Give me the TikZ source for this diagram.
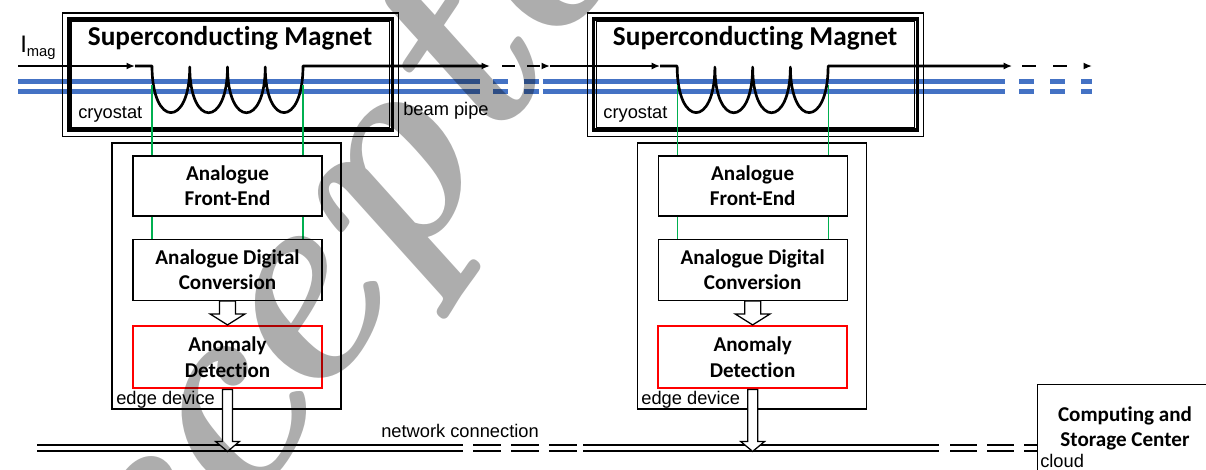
\documentclass[tikz,border=0pt]{standalone}
\usepackage{fontspec}
\usetikzlibrary{positioning}
\usetikzlibrary{arrows.meta}
\newfontfamily\calib[Ligatures=NoCommon]{Carlito}
\newfontfamily\arialf{Liberation Sans}
\definecolor{pipeblue}{HTML}{4472C4}
\definecolor{siggreen}{HTML}{00B050}
\newcommand{\pxl}{0.025cm}

\tikzset{
  wire/.style={line width=1.9pt, line join=round},
  wtip/.style={-{Latex[length=6pt,width=5pt]}},
  pipe/.style={pipeblue, line width=3.2pt},
  sig/.style={siggreen, line width=0.9pt},
  cryo/.style={draw, line width=2.35pt, minimum width=324*\pxl, minimum height=111*\pxl, inner sep=0pt},
  ttl/.style={inner sep=0pt, anchor=base, font=\calib\bfseries\fontsize{19.4}{19.4}\selectfont},
  blk/.style={draw, line width=0.9pt, minimum width=189*\pxl, minimum height=60*\pxl, inner sep=0pt, align=center, font=\calib\bfseries\fontsize{15}{17.8}\selectfont},
  lbl/.style={inner sep=0pt, anchor=base west, font=\arialf\fontsize{13}{13}\selectfont},
  hollow/.style={draw, fill=white, line width=0.9pt, line join=miter},
  netline/.style={line width=1.8pt, double distance=2.5pt, double=white}
}

\begin{document}
\begin{tikzpicture}[x=0.025cm, y=-0.025cm]
\useasboundingbox (0,0) rectangle (1206,469);

\begin{scope}[xshift=0cm]
{
\draw[pipe] (18,81.7)--(480,81.7);
\draw[pipe] (18,91.7)--(480,91.7);

\node[cryo] (magL) at (230.3,74.6) {};
\draw[line width=0.9pt] ([shift={(-4.5,4.5)}]magL.south west) rectangle ([shift={(4.5,-4.5)}]magL.north east);
\draw[line width=0.9pt] ([shift={(4.4,-4.3)}]magL.south west) rectangle ([shift={(-4.4,4.3)}]magL.north east);
\node[ttl] (titL) at (230,45.5) {Superconducting Magnet};
\node[lbl] (cryL) at (78,118) {cryostat};

\draw[wire, wtip] (18,66)--(135,66);
\draw[wire, wtip] (135,66)--(152,66) .. controls (152,128) and (189.75,128) .. (189.75,67)
   .. controls (189.75,128) and (227.5,128) .. (227.5,67)
   .. controls (227.5,128) and (265.25,128) .. (265.25,67)
   .. controls (265.25,128) and (303,128) .. (303,66)--(490,66);

\node[draw, line width=0.9pt, minimum width=229*\pxl, minimum height=266*\pxl, inner sep=0pt] (edgeL) at (226.5,276) {};
\node[blk] (feL) at (227.5,186) {Analogue\\Front-End};
\node[blk, minimum height=61*\pxl, below=0.55cm of feL] (adcL) {Analogue Digital\\Conversion};
\node[blk, draw=red, line width=1.8pt, minimum height=62*\pxl, below=0.6cm of adcL] (anoL) {Anomaly\\Detection};

\coordinate (gaL) at (152,85);
\coordinate (gbL) at (303,85);
\draw[sig] (gaL)--(gaL |- feL.north);
\draw[sig] (gbL)--(gbL |- feL.north);
\draw[sig] (gaL |- feL.south)--(gaL |- adcL.north);
\draw[sig] (gbL |- feL.south)--(gbL |- adcL.north);

\draw[hollow] (adcL.south) ++(-8,0) --++(0,13) --++(-9.5,0) --++(17.5,11) --++(17.5,-11) --++(-9.5,0) --++(0,-13) -- cycle;

\node[lbl] (edL) at (116,404) {edge device};

% labellings
\node[lbl] (bpL) at (403,115) {beam pipe};
\node[anchor=base west, inner sep=0pt, font=\arialf\fontsize{17}{17}\selectfont] (imag) at (20,52)
{I\raisebox{-3pt}{\fontsize{10.5}{10.5}\selectfont mag}};
}
\end{scope}

\begin{scope}[xshift=13.125cm]
{
\draw[pipe] (18,81.7)--(480,81.7);
\draw[pipe] (18,91.7)--(480,91.7);

\node[cryo] (magR) at (230.3,74.6) {};
\draw[line width=0.9pt] ([shift={(-4.5,4.5)}]magR.south west) rectangle ([shift={(4.5,-4.5)}]magR.north east);
\draw[line width=0.9pt] ([shift={(4.4,-4.3)}]magR.south west) rectangle ([shift={(-4.4,4.3)}]magR.north east);
\node[ttl] (titR) at (230,45.5) {Superconducting Magnet};
\node[lbl] (cryR) at (78,118) {cryostat};

\draw[wire, wtip] (25,66)--(135,66);
\draw[wire, wtip] (135,66)--(152,66) .. controls (152,128) and (189.75,128) .. (189.75,67)
   .. controls (189.75,128) and (227.5,128) .. (227.5,67)
   .. controls (227.5,128) and (265.25,128) .. (265.25,67)
   .. controls (265.25,128) and (303,128) .. (303,66)--(487,66);

\node[draw, line width=0.9pt, minimum width=229*\pxl, minimum height=266*\pxl, inner sep=0pt] (edgeR) at (226.5,276) {};
\node[blk] (feR) at (227.5,186) {Analogue\\Front-End};
\node[blk, minimum height=61*\pxl, below=0.55cm of feR] (adcR) {Analogue Digital\\Conversion};
\node[blk, draw=red, line width=1.8pt, minimum height=62*\pxl, below=0.6cm of adcR] (anoR) {Anomaly\\Detection};

\coordinate (gaR) at (152,85);
\coordinate (gbR) at (303,85);
\draw[sig] (gaR)--(gaR |- feR.north);
\draw[sig] (gbR)--(gbR |- feR.north);
\draw[sig] (gaR |- feR.south)--(gaR |- adcR.north);
\draw[sig] (gbR |- feR.south)--(gbR |- adcR.north);

\draw[hollow] (adcR.south) ++(-8,0) --++(0,13) --++(-9.5,0) --++(17.5,11) --++(17.5,-11) --++(-9.5,0) --++(0,-13) -- cycle;

\node[lbl] (edR) at (116,404) {edge device};
}
\end{scope}

% dashed continuations
\draw[pipe, dash pattern=on 10.67pt off 11.38pt] (493,81.7)--(539,81.7);
\draw[pipe, dash pattern=on 10.67pt off 11.38pt] (493,91.7)--(539,91.7);
\draw[pipe, dash pattern=on 10.67pt off 11.38pt] (1019,81.7)--(1092,81.7);
\draw[pipe, dash pattern=on 10.67pt off 11.38pt] (1019,91.7)--(1092,91.7);
\draw[wire, wtip, dash pattern=on 9.25pt off 8.54pt] (502,66)--(550,66);
\draw[wire, wtip, dash pattern=on 9.6pt off 12.45pt] (1022,66)--(1092,66);

% cloud
\node[draw, line width=0.9pt, minimum width=190*\pxl, minimum height=110*\pxl, anchor=north west, inner sep=0pt] (csc) at (1037,384) {};
\node[align=center, inner sep=0pt, font=\calib\bfseries\fontsize{15}{17.8}\selectfont] (cscT) at (1125,428.5) {Computing and\\Storage Center};
\node[lbl] (cloudL) at (1040,467) {cloud};

% network connection
\coordinate (netA) at (37,448);
\draw[netline] (netA)--(463,448);
\draw[netline, dash pattern=on 19.92pt off 7.11pt] (473,448)--(577,448);
\draw[netline] (583,448)--(939,448);
\draw[netline, dash pattern=on 19.2pt off 7.11pt] (950,448)--(netA -| csc.west);
\node[lbl] (netL) at (381,437) {network connection};

\draw[hollow] (anoL.south) ++(-5,0) --++(0,52) --++(-7,0) --++(12,10) --++(12,-10) --++(-7,0) --++(0,-52) -- cycle;
\draw[hollow] (anoR.south) ++(-5,0) --++(0,52) --++(-7,0) --++(12,10) --++(12,-10) --++(-7,0) --++(0,-52) -- cycle;

\begin{scope}[blend mode=multiply]
\node[rotate=56, text=black!32, inner sep=0pt, font=\bfseries\itshape\fontsize{200}{200}\selectfont] (wmark) at (317,284) {Accepted};
\end{scope}

\end{tikzpicture}
\end{document}
